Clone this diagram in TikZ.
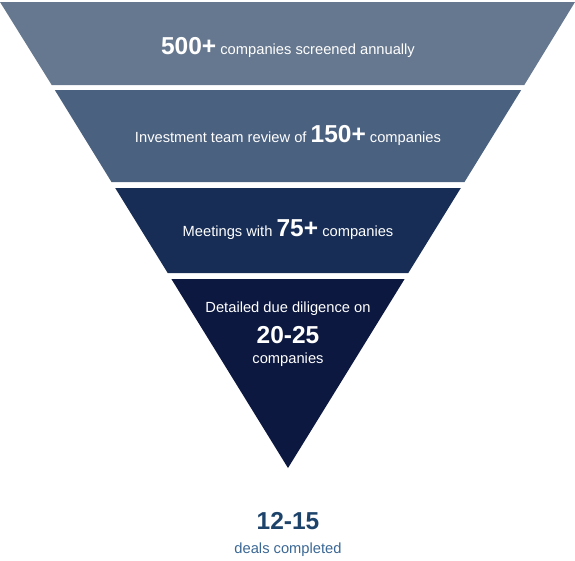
\documentclass[tikz,border=0pt]{standalone}
\usepackage{fontspec}
\setmainfont{Liberation Sans}
\definecolor{bandA}{HTML}{66788F}
\definecolor{bandB}{HTML}{4B6180}
\definecolor{bandC}{HTML}{172D55}
\definecolor{bandD}{HTML}{0C1840}
\definecolor{bignum}{HTML}{1D436B}
\definecolor{smalltxt}{HTML}{3A6794}
\tikzset{
  band/.style={draw=none},
  lbl/.style={anchor=base, inner sep=0pt, text=white, font=\fontsize{14.7}{16}\selectfont},
  outlbl/.style={anchor=base, inner sep=0pt},
}
\newcommand{\bignr}[1]{{\fontsize{24.5}{26}\selectfont\bfseries #1}}
\begin{document}
\begin{tikzpicture}[x=1pt,y=-1pt]
\useasboundingbox (0,0) rectangle (575,560);
% bands
\fill[band, bandA] (0,2) -- (575,2) -- (524.3,85) -- (51.7,85) -- cycle;
\fill[band, bandB] (54.8,90) -- (521.2,90) -- (464.5,182) -- (111.5,182) -- cycle;
\fill[band, bandC] (115.2,188) -- (460.8,188) -- (408.3,273) -- (167.7,273) -- cycle;
\fill[band, bandD] (171.4,279) -- (404.6,279) -- (288,468) -- cycle;
% labels
\node[lbl] (t1) at (288,54.3) {\bignr{500+} companies screened annually};
\node[lbl] (t2) at (288,142.3) {Investment team review of \bignr{150+} companies};
\node[lbl] (t3) at (288,236.7) {Meetings with \bignr{75+} companies};
\node[lbl] (t4a) at (288,312.7) {Detailed due diligence on};
\node[lbl] (t4b) at (288,343.3) {\bignr{20-25}};
\node[lbl] (t4c) at (288,363.3) {companies};
\node[outlbl, text=bignum] (t5a) at (288,529.3) {\bignr{12-15}};
\node[outlbl, text=smalltxt, font=\fontsize{14.7}{16}\selectfont] (t5b) at (288,553.3) {deals completed};
\end{tikzpicture}
\end{document}
